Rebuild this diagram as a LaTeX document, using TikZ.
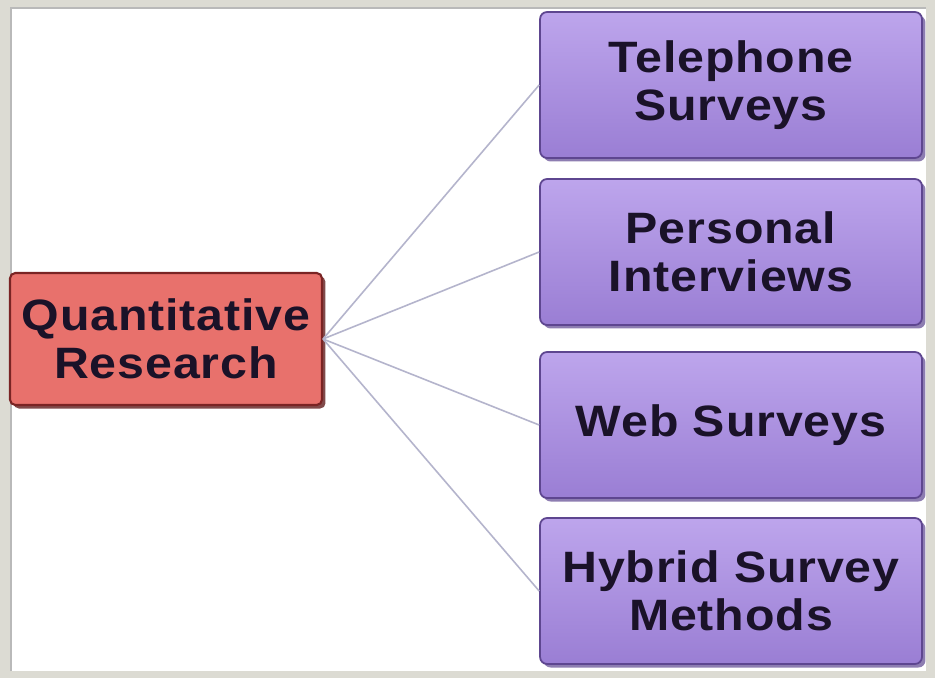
\documentclass[tikz,border=0pt]{standalone}
\usepackage{fontspec}
\setmainfont{Liberation Sans}
\newfontfamily\boxfont[FakeStretch=1.1, LetterSpace=2]{Liberation Sans}
\usetikzlibrary{shadows}

\definecolor{framegray}{HTML}{DCDBD3}
\definecolor{redfill}{HTML}{E8716C}
\definecolor{redline}{HTML}{7A2424}
\definecolor{purptop}{HTML}{BDA5EC}
\definecolor{purpbot}{HTML}{9A7ED4}
\definecolor{purpline}{HTML}{5E4690}
\definecolor{linkcol}{HTML}{B4B4CC}
\definecolor{textcol}{HTML}{1A1228}

\tikzset{
	mainbox/.style={draw=redline, line width=1.2pt, fill=redfill, rounded corners=3pt,
		minimum width=6.24cm, minimum height=2.64cm, align=center, text=textcol,
		font=\boxfont\fontsize{25}{27}\selectfont\bfseries,
		drop shadow={shadow xshift=2pt, shadow yshift=-2pt, fill=redline!80!black, opacity=.8}},
	methodbox/.style={draw=purpline, line width=1pt, top color=purptop, bottom color=purpbot,
		rounded corners=4pt, minimum width=7.64cm, minimum height=2.92cm, align=center,
		text=textcol, font=\boxfont\fontsize{25}{27}\selectfont\bfseries,
		drop shadow={shadow xshift=2pt, shadow yshift=-2pt, fill=purpline, opacity=.7}},
	link/.style={draw=linkcol, line width=0.9pt}
}

\begin{document}
\begin{tikzpicture}[x=0.02cm, y=-0.02cm]
		\fill[framegray] (0,0) rectangle (935,678);
		\fill[white] (11,8) rectangle (926,671);
		\draw[gray!55, line width=1pt] (11,671) -- (11,8) -- (926,8);
		\node[mainbox] (quant) at (166,339) {Quantitative\\Research};
		\node[methodbox] (phone) at (731,85) {Telephone\\Surveys};
		\node[methodbox] (personal) at (731,252) {Personal\\Interviews};
		\node[methodbox] (web) at (731,425) {Web Surveys};
		\node[methodbox] (hybrid) at (731,591) {Hybrid Survey\\Methods};
		\foreach \m in {phone, personal, web, hybrid}
			\draw[link] (quant.east) -- (\m.west);
	\end{tikzpicture}
\end{document}
